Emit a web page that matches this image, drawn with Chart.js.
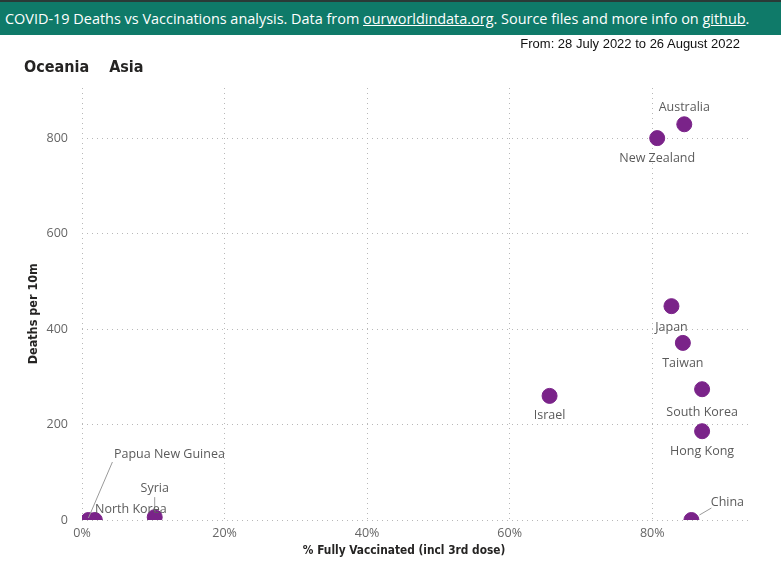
<!DOCTYPE html>
<html>
<head>
<meta charset="utf-8">
<script src="https://cdn.jsdelivr.net/npm/chart.js@4/dist/chart.umd.min.js"></script>
<style>
  html, body { margin:0; padding:0; background:#fff; }
  #wrap { position:relative; width:781px; height:587px; overflow:hidden; }
  #hdr { position:absolute; left:0; top:0; width:781px; height:35px; background:#0f7a69; border-top:2px solid #2a3a37;
         color:#fff; font-family:"Open Sans", sans-serif; font-size:14.45px; line-height:34px; padding-left:5px; box-sizing:border-box; white-space:nowrap; z-index:2; }
  #hdr u { text-decoration:underline; }
  #from { position:absolute; right:41px; top:36px; font-family:"Liberation Sans", Arial, sans-serif; font-size:13px; color:#111; z-index:2; }
  #tabs { position:absolute; left:24px; top:57px; font-family:"DejaVu Sans Condensed", "DejaVu Sans", sans-serif; font-weight:bold; font-size:16px; color:#252423; z-index:2; }
  #tabs span.o { margin-right:20px; }
  canvas { position:absolute; left:0; top:0; }
</style>
</head>
<body>
<div id="wrap">
  <div id="hdr">COVID-19 Deaths vs Vaccinations analysis. Data from <u>ourworldindata.org</u>. Source files and more info on <u>github</u>.</div>
  <div id="from">From: 28 July 2022 to 26 August 2022</div>
  <div id="tabs"><span class="o">Oceania</span><span>Asia</span></div>
  <canvas id="c" width="781" height="587"></canvas>
</div>
<script>
// ---- data ----
const countries  = ["Australia", "New Zealand", "Japan", "Taiwan", "South Korea", "Hong Kong", "Israel", "China", "Syria", "North Korea", "Papua New Guinea"];
const vaccinated = [84.5, 80.7, 82.7, 84.3, 87.0, 87.0, 65.6, 85.5, 10.2, 1.8, 0.9];
const deaths     = [829, 800, 448, 371, 274, 186, 260, 0, 6, 0, 0];
const xTicks     = [0, 20, 40, 60, 80];
const yTicks     = [0, 200, 400, 600, 800];

// ---- label placement (style only) ----
const labelPlace = {
  "Australia":        {dx: 0,  dy: -17},
  "New Zealand":      {dx: 0,  dy: 20},
  "Japan":            {dx: 0,  dy: 21},
  "Taiwan":           {dx: 0,  dy: 21},
  "South Korea":      {dx: 0,  dy: 23},
  "Hong Kong":        {dx: 0,  dy: 20},
  "Israel":           {dx: 0,  dy: 20},
  "China":            {dx: 36, dy: -18, lead: [8, -5, 20, -12]},
  "Syria":            {dx: 0,  dy: -29, lead: [0, -5, 0, -20]},
  "North Korea":      {dx: 36, dy: -11},
  "Papua New Guinea": {dx: 81, dy: -66, lead: [0, -2, 24, -58]}
};

const points = countries.map((c, i) => ({x: vaccinated[i], y: deaths[i]}));

const labelPlugin = {
  id: 'labels',
  afterDatasetsDraw(chart) {
    const ctx = chart.ctx;
    const meta = chart.getDatasetMeta(0);
    ctx.save();
    ctx.font = '12.5px "Open Sans", sans-serif';
    ctx.textAlign = 'center';
    ctx.textBaseline = 'middle';
    meta.data.forEach((el, i) => {
      const p = labelPlace[countries[i]] || {dx:0, dy:20};
      if (p.lead) {
        ctx.strokeStyle = '#9a9a9a';
        ctx.lineWidth = 1;
        ctx.beginPath();
        ctx.moveTo(el.x + p.lead[0], el.y + p.lead[1]);
        ctx.lineTo(el.x + p.lead[2], el.y + p.lead[3]);
        ctx.stroke();
      }
      ctx.fillStyle = '#5b5b5b';
      ctx.fillText(countries[i], el.x + p.dx, el.y + p.dy);
    });
    ctx.restore();
  }
};

const gridStyle = { color: '#b8b8b8', lineWidth: 1, drawTicks: false };
const borderStyle = { display: false, dash: [1, 4] };
const titleFamily = '"DejaVu Sans Condensed", "DejaVu Sans", sans-serif';

new Chart(document.getElementById('c'), {
  type: 'scatter',
  data: {
    datasets: [{
      data: points,
      backgroundColor: '#7a2389',
      borderColor: '#7a2389',
      pointRadius: 7.5,
      pointHoverRadius: 7.5
    }]
  },
  options: {
    responsive: false,
    animation: false,
    layout: { padding: { top: 88, right: 29, left: 0, bottom: 0 } },
    plugins: { legend: { display: false }, tooltip: { enabled: false } },
    scales: {
      x: {
        type: 'linear', min: 0, max: 94,
        afterBuildTicks: s => { s.ticks = xTicks.map(v => ({value: v})); },
        afterFit: s => { s.height = 67; },
        border: borderStyle,
        grid: gridStyle,
        ticks: { padding: 6, color: '#666', font: { family: '"Open Sans", sans-serif', size: 12.5 }, callback: v => v + '%' },
        title: { display: true, text: '% Fully Vaccinated (incl 3rd dose)\u00a0\u00a0\u00a0\u00a0\u00a0\u00a0\u00a0', color: '#252423',
                 font: { family: titleFamily, size: 11.8, weight: 'bold' },
                 padding: { top: 0, bottom: 29 } }
      },
      y: {
        type: 'linear', min: 0, max: 905,
        afterBuildTicks: s => { s.ticks = yTicks.map(v => ({value: v})); },
        afterFit: s => { s.width = 82; },
        border: borderStyle,
        grid: gridStyle,
        ticks: { padding: 14, color: '#666', font: { family: '"Open Sans", sans-serif', size: 12.5 } },
        title: { display: true, text: 'Deaths per 10m\u00a0\u00a0\u00a0\u00a0\u00a0', color: '#252423',
                 font: { family: titleFamily, size: 12.5, weight: 'bold' },
                 padding: { top: 26, bottom: 0 } }
      }
    }
  },
  plugins: [labelPlugin]
});
</script>
</body>
</html>
